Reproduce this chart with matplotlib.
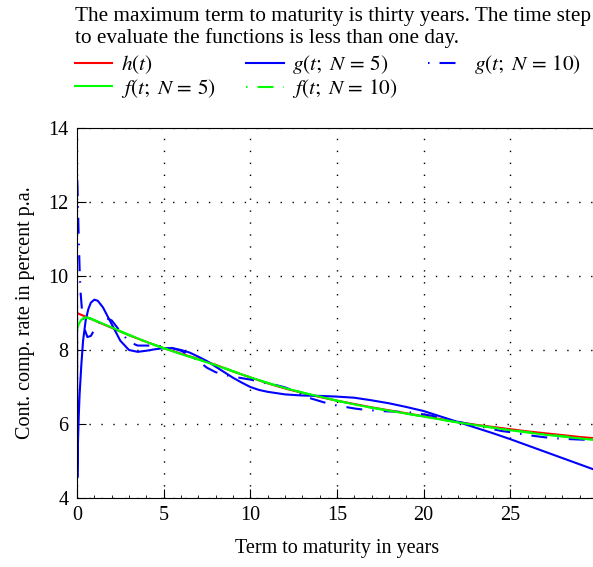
import numpy as np
import matplotlib
matplotlib.use("Agg")
import matplotlib.pyplot as plt
from matplotlib.ticker import MultipleLocator

plt.rcParams['font.family'] = ['Liberation Serif', 'DejaVu Serif']
plt.rcParams['mathtext.fontset'] = 'stix'
plt.rcParams['lines.scale_dashes'] = False

# term to maturity (years) and rates (percent p.a.)
t_h = [0, 1, 2, 3, 4, 5, 6, 7, 8, 9, 10, 11, 12, 13, 14, 15, 16, 17, 18, 19,
       20, 21, 22, 23, 24, 25, 26, 27, 28, 29, 30]
h = [9.0, 8.8, 8.6, 8.4, 8.22, 8.05, 7.9, 7.76, 7.6, 7.42, 7.26, 7.1, 6.96, 6.84,
     6.73, 6.63, 6.54, 6.45, 6.37, 6.29, 6.21, 6.13, 6.05, 5.98, 5.92, 5.86,
     5.8, 5.75, 5.7, 5.65, 5.61]

t_g5 = [0, 0.02, 0.05, 0.1, 0.15, 0.25, 0.35, 0.5, 0.65, 0.8, 1.0, 1.2, 1.5, 2.0,
        2.5, 3.0, 3.5, 4.0, 4.5, 5.0, 5.5, 6.0, 6.5, 7.0, 7.5, 8.0, 8.5, 9.0,
        9.5, 10, 10.5, 11, 12, 13, 14, 15, 16, 17, 18, 19, 20, 21, 22, 23, 24,
        25, 26, 27, 28, 29, 30]
g5 = [9.7, 4.55, 5.4, 6.2, 6.8, 7.6, 8.25, 8.8, 9.1, 9.28, 9.36, 9.33, 9.15, 8.7,
      8.25, 8.0, 7.95, 7.98, 8.02, 8.05, 8.05, 8.0, 7.93, 7.82, 7.7, 7.55, 7.4,
      7.25, 7.12, 7.0, 6.92, 6.87, 6.8, 6.77, 6.76, 6.74, 6.71, 6.64, 6.56, 6.46,
      6.35, 6.2, 6.05, 5.9, 5.75, 5.59, 5.42, 5.25, 5.08, 4.91, 4.74]

t_g10 = [0, 0.05, 0.1, 0.15, 0.2, 0.3, 0.45, 0.6, 0.8, 1.0, 1.3, 1.6, 2.0, 2.5,
         3.0, 3.5, 4.0, 4.5, 5.0, 5.5, 6.0, 6.5, 7.0, 7.5, 8.0, 8.5, 9.0, 9.5,
         10, 10.5, 11, 11.5, 12, 12.5, 13, 13.5, 14, 14.5, 15, 15.5, 16, 16.5,
         17, 17.5, 18, 18.5, 19, 19.5, 20, 20.5, 21, 21.5, 22, 22.5, 23, 23.5,
         24, 24.5, 25, 25.5, 26, 26.5, 27, 27.5, 28, 28.5, 29, 30]
g10 = [12.9, 12.0, 11.0, 10.2, 9.6, 9.0, 8.55, 8.35, 8.38, 8.55, 8.78, 8.88, 8.8,
       8.5, 8.22, 8.12, 8.12, 8.12, 8.1, 8.05, 7.98, 7.86, 7.7, 7.52, 7.4, 7.33,
       7.28, 7.24, 7.2, 7.15, 7.1, 7.05, 6.99, 6.9, 6.79, 6.69, 6.62, 6.55, 6.5,
       6.46, 6.42, 6.39, 6.37, 6.35, 6.34, 6.33, 6.32, 6.3, 6.26, 6.22, 6.16,
       6.11, 6.06, 6.01, 5.96, 5.91, 5.86, 5.81, 5.78, 5.74, 5.7, 5.67, 5.64,
       5.62, 5.6, 5.59, 5.58, 5.56]

t_f = [0, 0.1, 0.25, 0.5, 0.75, 1.0, 1.5, 2, 3, 4, 5, 6, 7, 8, 9, 10, 11, 12, 13,
       14, 15, 16, 17, 18, 19, 20, 21, 22, 23, 24, 25, 26, 27, 28, 29, 30]
f5 = [8.55, 8.7, 8.82, 8.88, 8.86, 8.81, 8.71, 8.61, 8.41, 8.22, 8.05, 7.89, 7.74,
      7.59, 7.42, 7.26, 7.11, 6.97, 6.85, 6.74, 6.63, 6.53, 6.44, 6.36, 6.28,
      6.2, 6.12, 6.04, 5.97, 5.9, 5.83, 5.77, 5.71, 5.66, 5.61, 5.56]
f10 = [8.62, 8.78, 8.86, 8.88, 8.85, 8.8, 8.7, 8.6, 8.4, 8.21, 8.05, 7.9, 7.75,
       7.6, 7.43, 7.26, 7.11, 6.97, 6.85, 6.74, 6.63, 6.53, 6.44, 6.36, 6.28,
       6.2, 6.12, 6.04, 5.97, 5.9, 5.84, 5.78, 5.72, 5.67, 5.62, 5.57]

W, H = 593, 567
fig = plt.figure(figsize=(W / 100, H / 100), dpi=100)
ax = fig.add_axes([77 / W, 69 / H, 520 / W, 370 / H])

dashdot = (18.7, (11.5, 7.2, 1.1, 7.2))
l_h, = ax.plot(t_h, h, color='red', lw=1.5, label='$h(t)$')
l_g5, = ax.plot(t_g5, g5, color='blue', lw=1.5, label='$g(t;\\ N\\,=\\,5)$')
l_g10, = ax.plot(t_g10, g10, color='blue', lw=1.5, ls=dashdot,
                 label='$g(t;\\ N\\,=\\,10)$')
l_f5, = ax.plot(t_f, f5, color='lime', lw=1.5, label='$f(t;\\ N\\,=\\,5)$')
l_f10, = ax.plot(t_f, f10, color='lime', lw=1.5, ls=dashdot,
                 label='$f(t;\\ N\\,=\\,10)$')

ax.set_xlim(0, 30)
ax.set_ylim(4, 14)
ax.set_xticks([0, 5, 10, 15, 20, 25])
ax.set_yticks([4, 6, 8, 10, 12, 14])
ax.xaxis.set_minor_locator(MultipleLocator(1))
ax.tick_params(which='both', direction='in', labelsize=14.5, pad=6)
ax.tick_params(which='major', length=6.5)
ax.tick_params(which='minor', length=2.2)
ax.grid(True, which='major', color='black', lw=1.0, ls=(0, (1, 7.6)))
ax.spines['right'].set_visible(False)

ax.set_xlabel('Term to maturity in years', fontsize=14.5, labelpad=10)
ax.set_ylabel('Cont. comp. rate in percent p.a.', fontsize=14.5, labelpad=10)

fig.text(75 / W, 1 - 7 / H,
         'The maximum term to maturity is thirty years. The time step\n'
         'to evaluate the functions is less than one day.',
         fontsize=15.3, va='top', ha='left', linespacing=1.15)

handles = [l_h, l_f5, l_g5, l_f10, l_g10]
fig.legend(handles, [hd.get_label() for hd in handles], ncol=3,
           loc='upper left', bbox_to_anchor=(75 / W, 1 - 53 / H),
           frameon=False, fontsize=15.3, handlelength=1.75, handletextpad=0.4,
           columnspacing=1.45, labelspacing=0.05, borderpad=0, borderaxespad=0)

fig.savefig('out.png', dpi=100)
